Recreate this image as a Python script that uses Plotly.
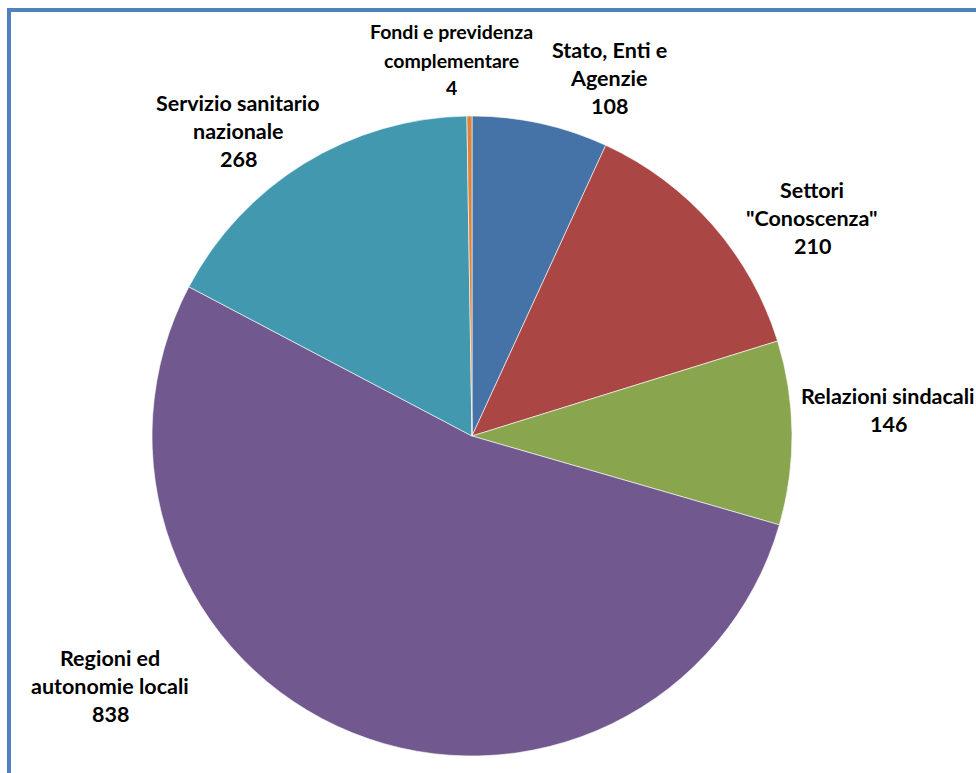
import plotly.graph_objects as go

# ---- data ----
categories = ["Stato, Enti e Agenzie", "Settori \"Conoscenza\"", "Relazioni sindacali",
              "Regioni ed autonomie locali", "Servizio sanitario nazionale",
              "Fondi e previdenza complementare"]
label_lines = [["Stato, Enti e", "Agenzie"], ["Settori", "\"Conoscenza\""], ["Relazioni sindacali"],
               ["Regioni ed", "autonomie locali"], ["Servizio sanitario", "nazionale"],
               ["Fondi e previdenza", "complementare"]]
values = [108, 210, 146, 838, 268, 4]
colors = ["#4572A7", "#AA4643", "#89A54E", "#71588F", "#4198AF", "#DB843D"]

# label placement (pixel centre x, first-line y) and font sizes
W, H = 976, 773
label_pos = [(609, 50), (812, 190), (888, 396), (110, 658), (238, 103), (451, 32)]
label_size = [21.5, 21.5, 21.5, 21.5, 21.5, 19.5]
LINE_GAP = 28

fig = go.Figure()
fig.add_trace(go.Pie(
    labels=categories, values=values, sort=False, direction="clockwise", rotation=0,
    marker=dict(colors=colors, line=dict(color="rgba(255,255,255,0.6)", width=1)),
    textinfo="none", hoverinfo="label+value", showlegend=False,
    domain=dict(x=[152 / W, 792 / W], y=[1 - 756 / H, 1 - 116 / H]),
))

annotations = []
for lines, val, (px, py), fs in zip(label_lines, values, label_pos, label_size):
    for i, line in enumerate(lines + [str(val)]):
        annotations.append(dict(
            x=px / W, y=1 - (py + i * LINE_GAP) / H, xref="paper", yref="paper",
            text=f"<b>{line}</b>", showarrow=False, xanchor="center", yanchor="middle",
            font=dict(family="Lato, 'Open Sans', sans-serif", size=fs, color="#000000"),
        ))

fig.update_layout(
    width=W, height=H, margin=dict(l=0, r=0, t=0, b=0),
    paper_bgcolor="white", plot_bgcolor="white",
    annotations=annotations,
    shapes=[dict(type="rect", xref="paper", yref="paper",
                 x0=9 / W, x1=1.05, y0=-0.05, y1=1 - 10 / H,
                 line=dict(color="#4F81BD", width=4), fillcolor="rgba(0,0,0,0)", layer="above")],
)

fig.write_html("out.html")
